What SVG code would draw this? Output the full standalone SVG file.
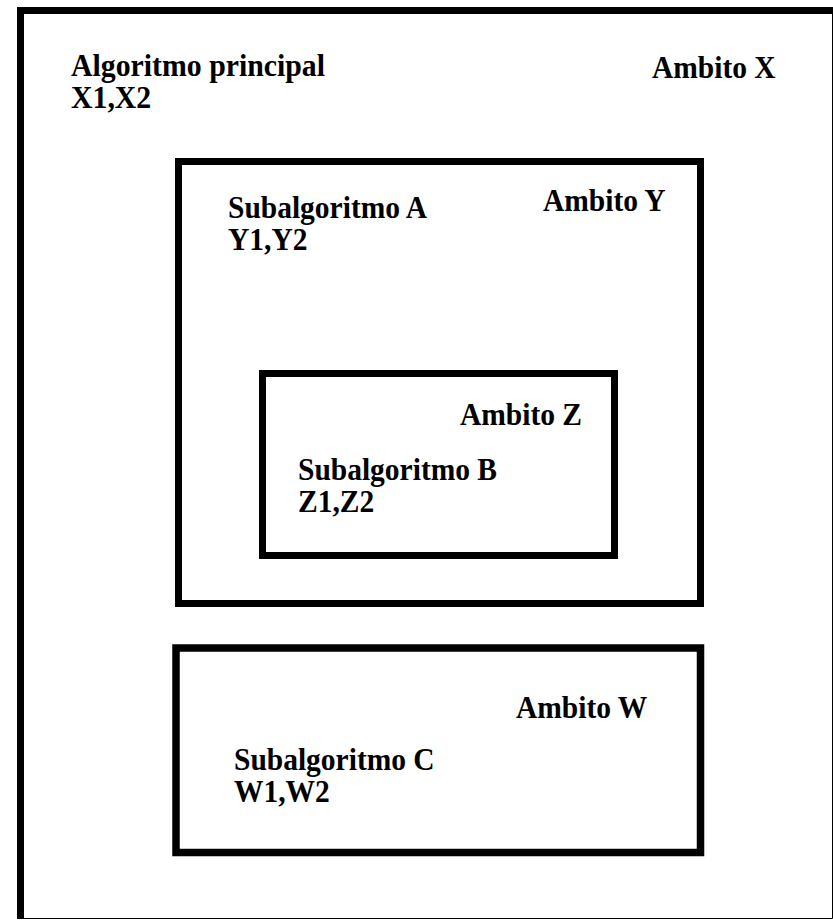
<svg xmlns="http://www.w3.org/2000/svg" width="833" height="920" viewBox="0 0 833 920">
<style>
.box{fill:none;stroke:#000;stroke-width:7}
.t{font-family:"Liberation Serif","Times New Roman",serif;font-weight:bold;font-size:29.5px;fill:#000}
</style>
<rect width="833" height="920" fill="#fff"/>
<g id="ambito-x">
<path d="M20.5,919 V10.5 H833" fill="none" stroke="#000" stroke-width="7"/>
<path d="M832.5,14 V918.5 H24" fill="none" stroke="#000" stroke-width="1"/>
<text class="t" transform="translate(71,76) scale(1.01,1.07)">Algoritmo principal</text>
<text class="t" transform="translate(71,108) scale(1.01,1.07)">X1,X2</text>
<text class="t" transform="translate(652,78) scale(1,1.07)">Ambito X</text>
</g>
<g id="ambito-y">
<rect class="box" x="178.5" y="161.5" width="522" height="442"/>
<text class="t" transform="translate(228,217.5) scale(1,1.07)">Subalgoritmo A</text>
<text class="t" transform="translate(228,249.5) scale(1,1.07)">Y1,Y2</text>
<text class="t" transform="translate(543,211) scale(1,1.07)">Ambito Y</text>
</g>
<g id="ambito-z">
<rect class="box" x="262.5" y="373.5" width="352" height="182"/>
<text class="t" transform="translate(460,425) scale(1,1.07)">Ambito Z</text>
<text class="t" transform="translate(298,480) scale(1,1.07)">Subalgoritmo B</text>
<text class="t" transform="translate(298,512) scale(1,1.07)">Z1,Z2</text>
</g>
<g id="ambito-w">
<rect class="box" x="176" y="648" width="524.5" height="204.5" style="stroke-width:7.5"/>
<text class="t" transform="translate(516,718) scale(1,1.07)">Ambito W</text>
<text class="t" transform="translate(234,770) scale(1,1.07)">Subalgoritmo C</text>
<text class="t" transform="translate(234,802) scale(1,1.07)">W1,W2</text>
</g>
<g id="connectors"></g>
</svg>
